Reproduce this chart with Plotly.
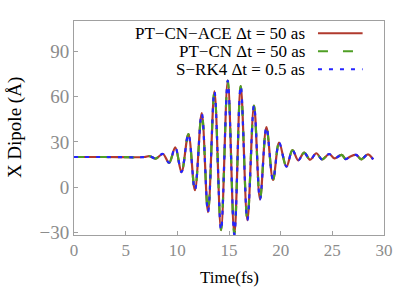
import plotly.graph_objects as go

# Time (fs) and X dipole (Angstrom) (extrema of the oscillation)
time_fs = [0, 3.0, 6.8, 7.3, 7.9, 8.6, 9.2, 9.8, 10.4, 11.07, 11.7, 12.36, 12.97, 13.59,
           14.23, 14.88, 15.52, 16.13, 16.78, 17.42, 18.0, 18.62, 19.26, 19.85, 20.56,
           21.14, 21.7, 22.27, 22.85, 23.45, 24.0, 24.7, 25.2, 25.9, 26.3, 26.7, 27.3,
           27.8, 28.45, 28.95]
dipole_ace = [20, 20, 20, 20.6, 19, 22, 16.2, 26.4, 10, 35.2, -2, 49, -16.5, 63.4,
              -28.4, 70.6, -31.2, 67, -21.8, 54.1, -8, 39.8, 4.8, 29.5, 13.6,
              24.6, 17.8, 22.9, 18.2, 22.5, 18.4, 22.0, 19.1, 21.4, 18.6, 20.2, 21.4,
              18.5, 21.8, 18.4]
dipole_cn = [20, 20, 20, 20.6, 19, 22, 16.2, 26.4, 10, 35.2, -2, 49, -16.5, 63.4,
             -28.4, 70.6, -31.2, 67, -21.8, 54.1, -8, 39.8, 4.8, 29.5, 13.6,
             24.6, 17.8, 22.9, 18.2, 22.5, 18.4, 22.0, 19.1, 21.4, 18.6, 20.2, 21.4,
             18.5, 21.8, 18.4]
dipole_rk4 = [20, 20, 20, 20.6, 19, 22, 16.2, 26.4, 10, 35.2, -2, 49, -16.5, 63.4,
              -28.4, 70.6, -31.4, 67, -21.8, 54.1, -8, 39.8, 4.8, 29.5, 13.6,
              24.6, 17.8, 22.9, 18.2, 22.5, 18.4, 22.0, 19.1, 21.4, 18.6, 20.2, 21.4,
              18.5, 21.8, 18.4]

series_names = ["PT\u2212CN\u2212ACE \u0394t = 50 as",
                "PT\u2212CN \u0394t = 50 as",
                "S\u2212RK4 \u0394t = 0.5 as"]
x_ticks = [0, 5, 10, 15, 20, 25, 30]
y_ticks = [-30, 0, 30, 60, 90]
x_title = "Time(fs)"
y_title = "X Dipole (\u00c5)"

colors = ["#b03a2e", "#4f9f25", "#2424ff"]
dashes = ["solid", "10px,15px", "4px,7px"]
series = [dipole_ace, dipole_cn, dipole_rk4]

SERIF = "Liberation Serif, Times New Roman, serif"

fig = go.Figure()
for name, ys, c, d in zip(series_names, series, colors, dashes):
    fig.add_trace(go.Scatter(x=time_fs, y=ys, mode="lines", name=name,
                             line=dict(color=c, width=2.2, dash=d, shape="spline", smoothing=1.0),
                             showlegend=False))

# manual legend (text on the left, sample line on the right, gnuplot style)
legend_y = [0.943, 0.859, 0.775]
for name, c, d, ly in zip(series_names, colors, dashes, legend_y):
    fig.add_annotation(x=0.75, y=ly, xref="paper", yref="paper", text=name,
                       showarrow=False, xanchor="right", yanchor="middle",
                       font=dict(family=SERIF, size=17, color="black"))
    fig.add_shape(type="line", xref="paper", yref="paper", x0=0.787, x1=0.931,
                  y0=ly, y1=ly, line=dict(color=c, width=2, dash=d))

# axis titles as annotations for exact placement
fig.add_annotation(x=0.5, y=-0.2, xref="paper", yref="paper", text=x_title,
                   showarrow=False, xanchor="center", yanchor="middle",
                   font=dict(family=SERIF, size=17, color="black"))
fig.add_annotation(x=-0.19, y=0.5, xref="paper", yref="paper", text=y_title,
                   showarrow=False, xanchor="center", yanchor="middle", textangle=-90,
                   font=dict(family=SERIF, size=19, color="black"))

axis_common = dict(showgrid=False, zeroline=False, showline=True, mirror=True,
                   linecolor="#a0a0a0", linewidth=1, ticks="inside", ticklen=4,
                   tickcolor="#a0a0a0", tickwidth=1, automargin=False)

fig.update_xaxes(range=[0, 30], tickvals=x_ticks,
                 tickfont=dict(family=SERIF, size=17, color="#8c8c8c"),
                 **axis_common)
fig.update_yaxes(range=[-31.6, 110], tickvals=y_ticks,
                 tickfont=dict(family=SERIF, size=19, color="#8c8c8c"),
                 **axis_common)

fig.update_layout(width=415, height=291, margin=dict(l=74, r=31, t=21, b=56),
                  paper_bgcolor="white", plot_bgcolor="white")

# remove the browser's default 8px body margin so the figure fills the window
fig.write_html("out.html", config={"displayModeBar": False},
               post_script="document.body.style.margin='0px';")
